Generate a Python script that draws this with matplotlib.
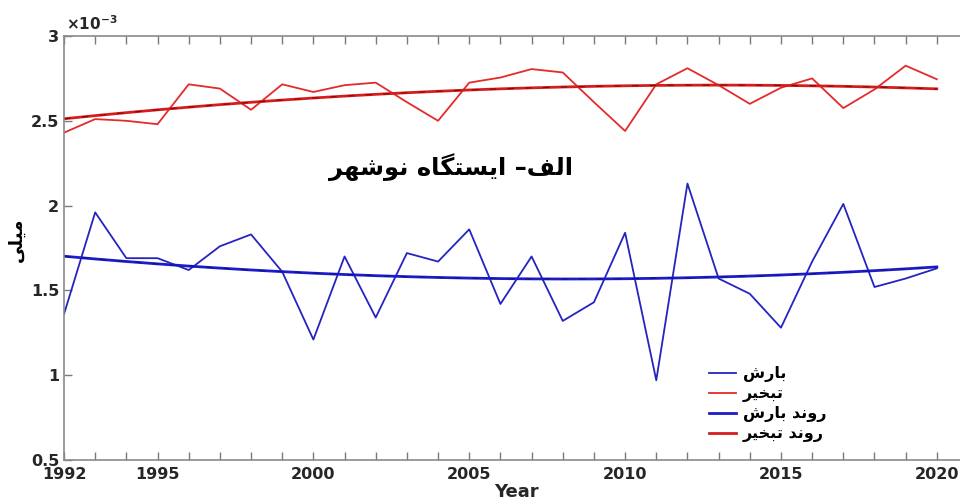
import re
import numpy as np
import matplotlib
matplotlib.use("Agg")
import matplotlib.pyplot as plt
from matplotlib.ticker import FuncFormatter

# daily values, in units of 1e-3 m
years = np.arange(1992, 2021)
precip = [1.36, 1.96, 1.69, 1.69, 1.62, 1.76, 1.83, 1.61, 1.21, 1.70,
          1.34, 1.72, 1.67, 1.86, 1.42, 1.70, 1.32, 1.43, 1.84, 0.97,
          2.13, 1.57, 1.48, 1.28, 1.67, 2.01, 1.52, 1.57, 1.63]
evap = [2.43, 2.51, 2.50, 2.48, 2.715, 2.69, 2.565, 2.715, 2.67, 2.71,
        2.725, 2.61, 2.50, 2.725, 2.755, 2.805, 2.785, 2.61, 2.44, 2.715,
        2.81, 2.71, 2.60, 2.695, 2.75, 2.575, 2.685, 2.825, 2.745]
xtick_labels = [str(y) if y in (1992, 1995, 2000, 2005, 2010, 2015, 2020) else ""
                for y in years]
yticks = [0.5, 1, 1.5, 2, 2.5, 3]

title = "الف– ایستگاه نوشهر"
ylabel = "میلی"
legend_labels = ["بارش", "تبخیر", "روند بارش", "روند تبخیر"]

# contextual forms (isolated, final, initial, medial); two-form letters only join to the right
ARABIC_FORMS = {
    'ا': ('\uFE8D', '\uFE8E'),
    'د': ('\uFEA9', '\uFEAA'),
    'ر': ('\uFEAD', '\uFEAE'),
    'و': ('\uFEED', '\uFEEE'),
    'ب': ('\uFE8F', '\uFE90', '\uFE91', '\uFE92'),
    'ت': ('\uFE95', '\uFE96', '\uFE97', '\uFE98'),
    'خ': ('\uFEA5', '\uFEA6', '\uFEA7', '\uFEA8'),
    'س': ('\uFEB1', '\uFEB2', '\uFEB3', '\uFEB4'),
    'ش': ('\uFEB5', '\uFEB6', '\uFEB7', '\uFEB8'),
    'ف': ('\uFED1', '\uFED2', '\uFED3', '\uFED4'),
    'ل': ('\uFEDD', '\uFEDE', '\uFEDF', '\uFEE0'),
    'م': ('\uFEE1', '\uFEE2', '\uFEE3', '\uFEE4'),
    'ن': ('\uFEE5', '\uFEE6', '\uFEE7', '\uFEE8'),
    'ه': ('\uFEE9', '\uFEEA', '\uFEEB', '\uFEEC'),
    'گ': ('\uFB92', '\uFB93', '\uFB94', '\uFB95'),
    'ی': ('\uFBFC', '\uFBFD', '\uFBFE', '\uFBFF'),
}


def shape_word(word):
    out = []
    for i, ch in enumerate(word):
        forms = ARABIC_FORMS[ch]
        prev_joins = i > 0 and len(ARABIC_FORMS[word[i - 1]]) == 4
        next_joins = i < len(word) - 1 and len(forms) == 4
        if prev_joins and next_joins:
            out.append(forms[3])
        elif prev_joins:
            out.append(forms[1])
        elif next_joins:
            out.append(forms[2])
        else:
            out.append(forms[0])
    return "".join(out)


def farsi(text):
    # shape each word, then lay the whole line out right-to-left
    shaped = re.sub("[\u0600-\u06FF]+", lambda m: shape_word(m.group()), text)
    return shaped[::-1]


plt.rcParams["font.family"] = ["DejaVu Sans"]
plt.rcParams["font.weight"] = "bold"

# quadratic trends
p_fit = np.polyval(np.polyfit(years, precip, 2), years)
e_fit = np.polyval(np.polyfit(years, evap, 2), years)

fig = plt.figure(figsize=(9.6, 5.04), dpi=100)
ax = fig.add_axes([64 / 960, 44 / 504, 904 / 960, 424 / 504])

blue = "#2424c0"
red = "#e42a2a"
ax.plot(years, precip, color=blue, lw=1.3, label=farsi(legend_labels[0]))
ax.plot(years, evap, color=red, lw=1.3, label=farsi(legend_labels[1]))
ax.plot(years, p_fit, color="#1c1cc8", lw=2.0, label=farsi(legend_labels[2]))
ax.plot(years, e_fit, color="#d41e1e", lw=2.0, label=farsi(legend_labels[3]))
ax.plot(years, p_fit, color="#101090", lw=0.8, dashes=(6, 10))
ax.plot(years, e_fit, color="#900000", lw=0.8, dashes=(6, 10))

ax.set_xlim(1992, 2021)
ax.set_ylim(0.5, 3)
ax.set_xticks(years)
ax.set_xticklabels(xtick_labels)
ax.set_yticks(yticks)
ax.yaxis.set_major_formatter(FuncFormatter(lambda v, pos: f"{v:g}"))
ax.tick_params(direction="in", length=6, width=1, color="#7a7a7a",
               top=True, right=True, labelsize=11.5, labelcolor="#262626")
ax.tick_params(axis="x", pad=5)
for s in ax.spines.values():
    s.set_color("#8a8a8a")
    s.set_linewidth(1.2)

ax.set_xlabel("Year", fontsize=13, fontweight="bold", color="#262626", labelpad=1)
ax.text(-0.052, 0.52, farsi(ylabel), transform=ax.transAxes, rotation=90,
        ha="center", va="center", fontsize=13, fontweight="bold")
ax.text(0.002, 1.008, r"$\times\mathbf{10}^{\mathbf{-3}}$", transform=ax.transAxes,
        ha="left", va="bottom", fontsize=11, color="#262626")
ax.text(0.428, 0.69, farsi(title), transform=ax.transAxes, ha="center",
        va="center", fontsize=17.5, fontweight="bold")

ax.legend(loc="upper left", bbox_to_anchor=(0.705, 0.24), frameon=False,
          fontsize=11.5, handlelength=1.7, handletextpad=0.4, labelspacing=0.25,
          borderpad=0)

fig.savefig("out.png", dpi=100, facecolor="white")
